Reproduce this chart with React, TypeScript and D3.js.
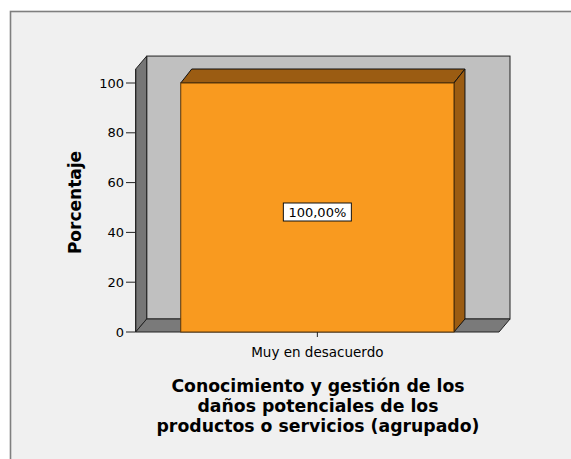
import React, { useEffect } from "react";
import * as d3 from "d3";

const categories = ["Muy en desacuerdo"];
const percentages = [100];
const valueLabels = ["100,00%"];
const yTicks = [0, 20, 40, 60, 80, 100];
const yAxisTitle = "Porcentaje";
const xAxisTitleLines = [
  "Conocimiento y gestión de los",
  "daños potenciales de los",
  "productos o servicios (agrupado)",
];

const W = 571;
const H = 459;
const DX = 11; // depth offset to the right
const DY = 13; // depth offset upward
const AXIS_MAX = 105.6;
const FONT = "'DejaVu Sans', Verdana, sans-serif";

export default function App() {
  useEffect(() => {
    document.body.style.margin = "0";
  }, []);

  const y = d3.scaleLinear().domain([0, 100]).range([332, 83]);
  const x = d3.scaleBand<string>().domain(categories).range([135.7, 499]).padding(0.1415);

  const x0 = x.range()[0];
  const x1 = x.range()[1];
  const yBottom = y(0);
  const yTop = y(AXIS_MAX);

  const pts = (arr: [number, number][]) => arr.map((p) => p.join(",")).join(" ");

  return (
    <svg width={W} height={H} style={{ display: "block" }} fontFamily={FONT}>
      <rect x={0} y={0} width={W} height={H} fill="#ffffff" />
      <rect x={10.5} y={11.5} width={620} height={520} fill="#f0f0f0" stroke="#7f7f7f" strokeWidth={1.6} />

      {/* back wall */}
      <rect
        x={x0 + DX}
        y={yTop - DY}
        width={x1 - x0}
        height={yBottom - yTop}
        fill="#c0c0c0"
        stroke="#222"
        strokeWidth={1}
      />
      {/* left wall */}
      <polygon
        points={pts([
          [x0, yTop],
          [x0 + DX, yTop - DY],
          [x0 + DX, yBottom - DY],
          [x0, yBottom],
        ])}
        fill="#767676"
        stroke="#222"
        strokeWidth={1}
      />
      {/* floor */}
      <polygon
        points={pts([
          [x0, yBottom],
          [x0 + DX, yBottom - DY],
          [x1 + DX, yBottom - DY],
          [x1, yBottom],
        ])}
        fill="#7a7a7a"
        stroke="#222"
        strokeWidth={1}
      />

      {/* bars */}
      {categories.map((c, i) => {
        const bx = x(c)!;
        const bw = x.bandwidth();
        const by = y(percentages[i]);
        return (
          <g key={c}>
            <polygon
              points={pts([
                [bx, by],
                [bx + DX, by - DY - 1],
                [bx + bw + DX, by - DY - 1],
                [bx + bw, by],
              ])}
              fill="#9b5c12"
              stroke="#111"
              strokeWidth={1}
            />
            <polygon
              points={pts([
                [bx + bw, by],
                [bx + bw + DX, by - DY - 1],
                [bx + bw + DX, yBottom - DY],
                [bx + bw, yBottom],
              ])}
              fill="#9b5c12"
              stroke="#111"
              strokeWidth={1}
            />
            <rect x={bx} y={by} width={bw} height={yBottom - by} fill="#f99a1f" stroke="#5a3608" strokeWidth={1} />
            <rect
              x={bx + bw / 2 - 34}
              y={(by + yBottom) / 2 - 4.5}
              width={68}
              height={18}
              fill="#ffffff"
              stroke="#111"
              strokeWidth={1}
            />
            <text
              x={bx + bw / 2}
              y={(by + yBottom) / 2 + 4.5}
              dy="0.35em"
              textAnchor="middle"
              fontSize={13}
              fill="#000"
            >
              {valueLabels[i]}
            </text>
          </g>
        );
      })}

      {/* y axis */}
      <line x1={x0} x2={x0} y1={yTop} y2={yBottom} stroke="#222" />
      {yTicks.map((t) => (
        <g key={t}>
          <line x1={126} x2={x0} y1={y(t)} y2={y(t)} stroke="#222" />
          <text x={124} y={y(t)} dy="0.35em" textAnchor="end" fontSize={13} fill="#000">
            {t}
          </text>
        </g>
      ))}
      <text
        transform={`translate(81,${(y(0) + y(100)) / 2 - 5}) rotate(-90)`}
        textAnchor="middle"
        fontSize={17}
        fontWeight="bold"
        fill="#000"
      >
        {yAxisTitle}
      </text>

      {/* x axis */}
      {categories.map((c) => {
        const cx = x(c)! + x.bandwidth() / 2;
        return (
          <g key={c}>
            <line x1={cx} x2={cx} y1={yBottom} y2={yBottom + 5} stroke="#222" />
            <text x={cx} y={yBottom + 20} dy="0.35em" textAnchor="middle" fontSize={13.5} fill="#000">
              {c}
            </text>
          </g>
        );
      })}
      {xAxisTitleLines.map((line, i) => (
        <text
          key={i}
          x={318}
          y={392 + i * 20}
          textAnchor="middle"
          fontSize={17.3}
          fontWeight="bold"
          fill="#000"
        >
          {line}
        </text>
      ))}
    </svg>
  );
}
